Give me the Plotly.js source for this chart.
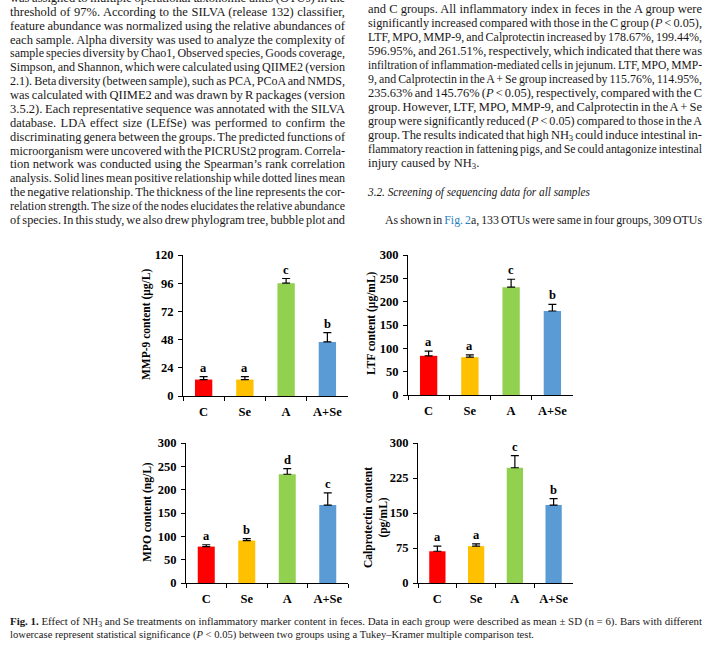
<!DOCTYPE html>
<html>
<head>
<meta charset="utf-8">
<script src="https://cdn.plot.ly/plotly-3.0.1.min.js"></script>
<style>
  html, body { margin:0; padding:0; background:#fff; }
  #wrap { position:relative; width:719px; height:653px; overflow:hidden; }
  #plot { position:absolute; left:0; top:0; width:719px; height:653px; }
  .ln { position:absolute; white-space:nowrap; font-family:"Liberation Serif","Times New Roman",serif;
        font-size:12.5px; line-height:14px; color:#1a1718; transform-origin:0 0; pointer-events:none; }
  .cap { font-size:10.8px; line-height:12px; }
  .blue { color:#2a7fc1; }
</style>
</head>
<body>
<div id="wrap">
  <div id="plot"></div>
  <div id="text"></div>
</div>
<script>
// ---------------- data ----------------
const groups = ['C', 'Se', 'A', 'A+Se'];
const barColors = ['#FF0000', '#FFC000', '#92D050', '#5B9BD5'];

const mmp9 = [14, 14, 96, 46];
const mmp9Err = [2.5, 2.5, 4, 8];
const mmp9Letters = ['a', 'a', 'c', 'b'];

const ltf = [84, 81, 231, 180];
const ltfErr = [10, 5, 17, 14];
const ltfLetters = ['a', 'a', 'c', 'b'];

const mpo = [78, 91, 233, 167];
const mpoErr = [4, 4, 12, 26];
const mpoLetters = ['a', 'b', 'd', 'c'];

const calpro = [68, 79, 247, 167];
const calproErr = [11, 5, 26, 14];
const calproLetters = ['a', 'a', 'c', 'b'];

// ---------------- page text ----------------
const leftLines = [
  "was assigned to multiple operational taxonomic units (OTUs) in the",
  "threshold of 97%. According to the SILVA (release 132) classifier,",
  "feature abundance was normalized using the relative abundances of",
  "each sample. Alpha diversity was used to analyze the complexity of",
  "sample species diversity by Chao1, Observed species, Goods coverage,",
  "Simpson, and Shannon, which were calculated using QIIME2 (version",
  "2.1). Beta diversity (between sample), such as PCA, PCoA and NMDS,",
  "was calculated with QIIME2 and was drawn by R packages (version",
  "3.5.2). Each representative sequence was annotated with the SILVA",
  "database. LDA effect size (LEfSe) was performed to confirm the",
  "discriminating genera between the groups. The predicted functions of",
  "microorganism were uncovered with the PICRUSt2 program. Correla-",
  "tion network was conducted using the Spearman\u2019s rank correlation",
  "analysis. Solid lines mean positive relationship while dotted lines mean",
  "the negative relationship. The thickness of the line represents the cor-",
  "relation strength. The size of the nodes elucidates the relative abundance",
  "of species. In this study, we also drew phylogram tree, bubble plot and"
];
const rightLines = [
  "and C groups. All inflammatory index in feces in the A group were",
  "significantly increased compared with those in the C group (<i>P</i> &lt; 0.05),",
  "LTF, MPO, MMP-9, and Calprotectin increased by 178.67%, 199.44%,",
  "596.95%, and 261.51%, respectively, which indicated that there was",
  "infiltration of inflammation-mediated cells in jejunum. LTF, MPO, MMP-",
  "9, and Calprotectin in the A + Se group increased by 115.76%, 114.95%,",
  "235.63% and 145.76% (<i>P</i> &lt; 0.05), respectively, compared with the C",
  "group. However, LTF, MPO, MMP-9, and Calprotectin in the A + Se",
  "group were significantly reduced (<i>P</i> &lt; 0.05) compared to those in the A",
  "group. The results indicated that high NH<sub>3</sub> could induce intestinal in-",
  "flammatory reaction in fattening pigs, and Se could antagonize intestinal",
  "injury caused by NH<sub>3</sub>."
];
const heading = "<i>3.2. Screening of sequencing data for all samples</i>";
const lastLine = "As shown in <span class='blue'>Fig. 2</span>a, 133 OTUs were same in four groups, 309 OTUs";
const captionLines = [
  "<b>Fig. 1.</b> Effect of NH<sub>3</sub> and Se treatments on inflammatory marker content in feces. Data in each group were described as mean \u00b1 SD (n = 6). Bars with different",
  "lowercase represent statistical significance (<i>P</i> &lt; 0.05) between two groups using a Tukey\u2013Kramer multiple comparison test."
];

const textHost = document.getElementById('text');
const placed = [];
// mode: 'justify' (word spacing, then scale), 'scale' (scale to exact width), 'shrink' (scale only if too wide)
function addLine(html, left, top, width, mode, cls) {
  const d = document.createElement('div');
  d.className = 'ln' + (cls ? ' ' + cls : '');
  d.style.left = left + 'px';
  d.style.top = top + 'px';
  d.innerHTML = html;
  d.querySelectorAll('sub').forEach(s => { s.style.fontSize = '0.7em'; s.style.verticalAlign = '-0.2em'; s.style.lineHeight = '0'; });
  textHost.appendChild(d);
  placed.push({ d, width, mode });
}
function fitAll() {
  placed.forEach(({ d, width, mode }) => {
    d.style.wordSpacing = '0px';
    d.style.transform = 'none';
    const w = d.getBoundingClientRect().width;
    const n = (d.textContent.match(/ /g) || []).length;
    if (mode === 'justify' && n > 0) {
      let ws = (width - w) / n;
      if (ws < -1.0) ws = -1.0;
      if (ws > 2.5) ws = 2.5;
      d.style.wordSpacing = ws + 'px';
      const w2 = d.getBoundingClientRect().width;
      if (Math.abs(w2 - width) > 0.5) d.style.transform = 'scaleX(' + (width / w2) + ')';
    } else if (mode === 'scale' || w > width) {
      d.style.transform = 'scaleX(' + (width / w) + ')';
    }
  });
}
leftLines.forEach((t, k) => addLine(t, 10, -9 + 13.87 * k, 335, 'justify'));
rightLines.forEach((t, k) => addLine(t, 368, 2 + 14 * k, 334, k < rightLines.length - 1 ? 'justify' : 'shrink'));
addLine(heading, 368, 185, 222, 'scale');
addLine(lastLine, 385, 213, 317, 'justify');
addLine(captionLines[0], 10, 615, 692, 'scale', 'cap');
addLine(captionLines[1], 10, 628, 524, 'scale', 'cap');
fitAll();
if (document.fonts && document.fonts.ready) document.fonts.ready.then(fitAll);

// ---------------- chart ----------------
const W = 719, H = 653;
const px = v => v / W;
const py = v => 1 - v / H;
const serif = 'Liberation Serif, Times New Roman, serif';
const tickFont = { family: serif, size: 12.5, color: '#000', weight: 'bold' };

const panels = [
  { vals: mmp9, err: mmp9Err, letters: mmp9Letters, x0: 183, x1: 348, yb: 396, yt: 255, max: 120, dtick: 24,
    title: 'MMP-9 content (\u03bcg/L)', tx: 147, ty: 325 },
  { vals: ltf, err: ltfErr, letters: ltfLetters, x0: 408, x1: 573, yb: 395, yt: 255, max: 300, dtick: 50,
    title: 'LTF content (\u03bcg/mL)', tx: 372, ty: 323 },
  { vals: mpo, err: mpoErr, letters: mpoLetters, x0: 186, x1: 348, yb: 583, yt: 443, max: 300, dtick: 50,
    title: 'MPO content (ng/L)', tx: 147, ty: 512 },
  { vals: calpro, err: calproErr, letters: calproLetters, x0: 418, x1: 573, yb: 583, yt: 443, max: 300, dtick: 75,
    title: 'Calprotectin content<br>(pg/mL)', tx: 376, ty: 518 }
];

const data = [];
const layout = {
  width: W, height: H,
  margin: { l: 0, r: 0, t: 0, b: 0 },
  paper_bgcolor: 'rgba(0,0,0,0)', plot_bgcolor: 'rgba(0,0,0,0)',
  showlegend: false,
  font: { family: serif, color: '#000' },
  annotations: []
};

panels.forEach((p, i) => {
  const sfx = i === 0 ? '' : String(i + 1);
  data.push({
    type: 'bar', x: groups, y: p.vals,
    xaxis: 'x' + sfx, yaxis: 'y' + sfx,
    width: 0.42,
    marker: { color: barColors, line: { width: 0 } },
    error_y: { type: 'data', symmetric: false, array: p.err, arrayminus: groups.map(() => 0),
               color: '#000', thickness: 1.2, width: 4 },
    hoverinfo: 'x+y'
  });
  layout['xaxis' + sfx] = {
    domain: [px(p.x0), px(p.x1)], anchor: 'y' + sfx, type: 'category',
    range: [-0.5, 3.5], showline: true, linecolor: '#000', linewidth: 1,
    ticks: 'outside', tickson: 'boundaries', ticklen: 4, tickcolor: '#000', tickwidth: 1,
    ticklabelstandoff: 4,
    showgrid: false, zeroline: false, tickfont: tickFont, fixedrange: true
  };
  layout['yaxis' + sfx] = {
    domain: [py(p.yb), py(p.yt)], anchor: 'x' + sfx,
    range: [0, p.max], dtick: p.dtick, tick0: 0,
    showline: true, linecolor: '#000', linewidth: 1,
    ticks: 'outside', ticklen: 4, tickcolor: '#000', tickwidth: 1,
    ticklabelstandoff: 2,
    showgrid: false, zeroline: false, tickfont: tickFont, fixedrange: true
  };
  groups.forEach((g, j) => {
    layout.annotations.push({
      xref: 'x' + sfx, yref: 'y' + sfx, x: g, y: p.vals[j] + p.err[j],
      text: p.letters[j], showarrow: false, yanchor: 'bottom', yshift: 0,
      font: { family: serif, size: 12.5, color: '#000', weight: 'bold' }
    });
  });
  layout.annotations.push({
    xref: 'paper', yref: 'paper', x: px(p.tx), y: py(p.ty),
    text: p.title, showarrow: false, textangle: -90, xanchor: 'center', yanchor: 'middle',
    font: { family: serif, size: 11.5, color: '#000', weight: 'bold' }
  });
});

Plotly.newPlot('plot', data, layout, { displayModeBar: false, staticPlot: true });
</script>
</body>
</html>
